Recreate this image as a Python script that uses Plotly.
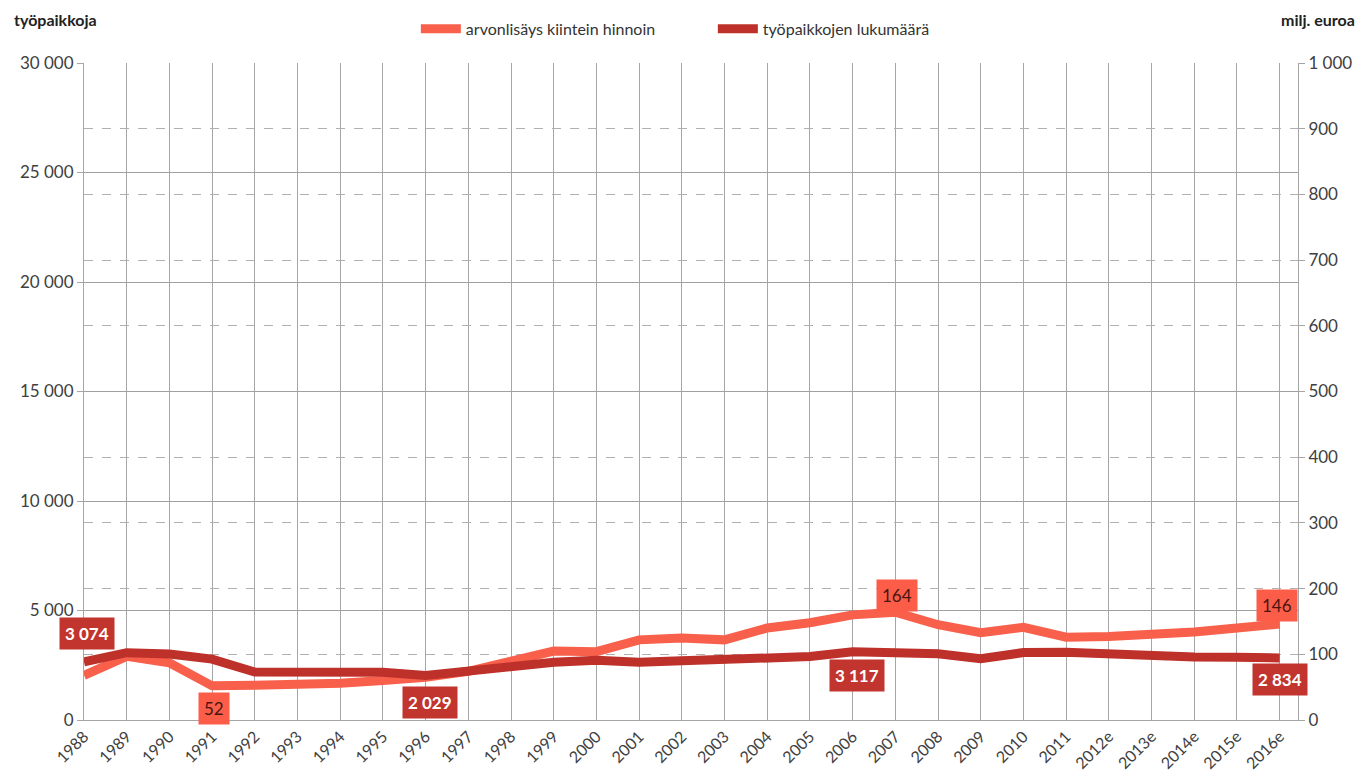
import plotly.graph_objects as go

years = ["1988", "1989", "1990", "1991", "1992", "1993", "1994", "1995", "1996", "1997",
         "1998", "1999", "2000", "2001", "2002", "2003", "2004", "2005", "2006", "2007",
         "2008", "2009", "2010", "2011", "2012e", "2013e", "2014e", "2015e", "2016e"]

# työpaikkojen lukumäärä (left axis, työpaikkoja)
jobs = [2650, 3074, 3010, 2780, 2190, 2190, 2220, 2180, 2029, 2250,
        2400, 2640, 2730, 2640, 2700, 2780, 2830, 2900, 3117, 3080,
        3020, 2800, 3080, 3090, 3000, 2930, 2880, 2860, 2834]

# arvonlisäys kiintein hinnoin (right axis, milj. euroa)
value_added = [68, 97, 87, 52, 53, 54, 56, 60, 65, 74,
               90, 105, 104, 122, 125, 122, 140, 148, 160, 164,
               145, 133, 141, 126, 127, 130, 134, 140, 146]

left_ticks = [0, 5000, 10000, 15000, 20000, 25000, 30000]
right_ticks = [0, 100, 200, 300, 400, 500, 600, 700, 800, 900, 1000]

LIGHT = "#F8604C"
DARK = "#BE302A"
FONT = "Lato"

fig = go.Figure()

fig.add_trace(go.Scatter(
    x=years, y=value_added, name="arvonlisäys kiintein hinnoin",
    mode="lines", line=dict(color=LIGHT, width=9), yaxis="y"))
fig.add_trace(go.Scatter(
    x=years, y=jobs, name="työpaikkojen lukumäärä",
    mode="lines", line=dict(color=DARK, width=9), yaxis="y2"))

# data labels: (category position, axis, value, text, style)
labels = [
    (0.07, "y2", 3930, "3 074", "dark"),
    (3.04, "y", 17, "52", "light"),
    (8.1, "y2", 820, "2 029", "dark"),
    (19.03, "y", 189, "164", "light"),
    (18.1, "y2", 2010, "3 117", "dark"),
    (27.93, "y", 175, "146", "light"),
    (28.0, "y2", 1870, "2 834", "dark"),
]
for xi, ax, yv, txt, style in labels:
    fg = "white" if style == "dark" else "#4a1510"
    bg = "#C2342E" if style == "dark" else "#FC5D49"
    txt_html = f"<b>{txt}</b>" if style == "dark" else txt
    fig.add_annotation(text=txt_html, x=xi, y=yv, xref="x", yref=ax, showarrow=False,
                       bgcolor=bg, borderpad=5,
                       font=dict(family=FONT, size=17, color=fg))

fig.add_annotation(text="<b>työpaikkoja</b>", xref="paper", yref="paper",
                   x=-0.0593, y=1.066, xanchor="left", yanchor="middle",
                   showarrow=False, font=dict(family=FONT, size=16, color="#222"))
fig.add_annotation(text="<b>milj. euroa</b>", xref="paper", yref="paper",
                   x=1.0486, y=1.066, xanchor="right", yanchor="middle",
                   showarrow=False, font=dict(family=FONT, size=16, color="#222"))

fig.update_layout(
    width=1355, height=771,
    margin=dict(l=76, r=65, t=55, b=59, autoexpand=False),
    paper_bgcolor="white", plot_bgcolor="white",
    separators=", ",
    font=dict(family=FONT, color="#404040"),
    showlegend=True,
    legend=dict(orientation="h", xref="container", yref="container",
                x=0.301, y=0.973, xanchor="left", yanchor="middle",
                font=dict(family=FONT, size=16, color="#333"), itemwidth=40,
                entrywidth=242, bgcolor="rgba(0,0,0,0)"),
    xaxis=dict(type="category", range=[0, 28.43], tickangle=-45,
               showgrid=True, gridcolor="#A6A6A6", gridwidth=1,
               showline=True, linecolor="#A6A6A6", mirror=False,
               ticks="", tickfont=dict(family=FONT, size=16, color="#404040")),
    yaxis=dict(side="right", range=[0, 1000], tickvals=right_ticks, tickformat=",d",
               separatethousands=True, showgrid=True, gridcolor="#B0B0B0",
               griddash="dash", gridwidth=1, zeroline=False,
               showline=True, linecolor="#A6A6A6", ticks="outside", ticklen=6,
               tickcolor="#A6A6A6", tickfont=dict(family=FONT, size=17, color="#404040")),
    yaxis2=dict(side="left", overlaying="y", range=[0, 30000], tickvals=left_ticks,
                tickformat=",d", separatethousands=True, showgrid=True,
                gridcolor="#A0A0A0", gridwidth=1,
                zeroline=False, showline=True, linecolor="#A6A6A6", ticks="outside",
                ticklen=6, tickcolor="#A6A6A6",
                tickfont=dict(family=FONT, size=17, color="#404040")),
)

fig.write_html("out.html")
